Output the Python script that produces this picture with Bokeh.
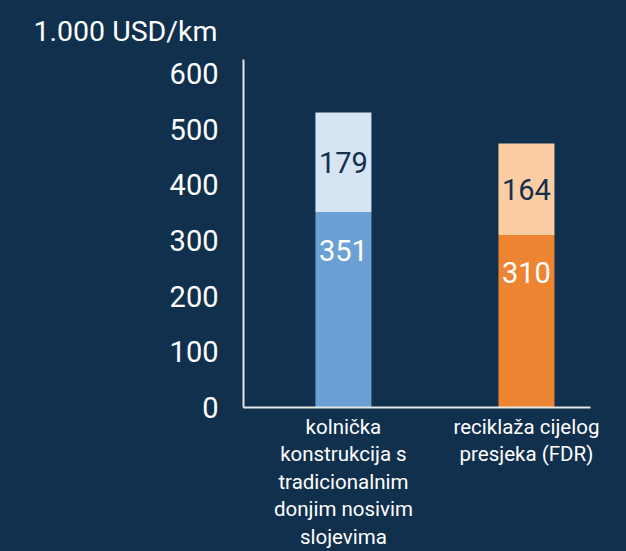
from bokeh.plotting import figure
from bokeh.models import Range1d, FixedTicker, Title, ColumnDataSource
from bokeh.core.properties import value
from bokeh.embed import file_html
from bokeh.resources import INLINE

categories = ["kolnička\nkonstrukcija s\ntradicionalnim\ndonjim nosivim\nslojevima",
              "reciklaža cijelog\npresjeka (FDR)"]
lower_values = [351, 310]
upper_values = [179, 164]
y_ticks = [0, 100, 200, 300, 400, 500, 600]
unit_label = "1.000 USD/km"

BG = "#11304d"
FONT_S = "Roboto, sans-serif"
FONT = value(FONT_S)

xs = list(range(len(categories)))
totals = [a + b for a, b in zip(lower_values, upper_values)]

p = figure(width=626, height=551, output_backend="svg", toolbar_location=None,
           x_range=Range1d(-0.546, 1.35), y_range=Range1d(0, 625),
           min_border_left=243, min_border_right=36, min_border_top=58, min_border_bottom=144)
p.styles = {"background-color": BG}
p.background_fill_color = BG
p.border_fill_color = BG
p.outline_line_color = None
p.grid.visible = False

src = ColumnDataSource(dict(x=xs, low=lower_values, up=upper_values, tot=totals,
                            mid=[a + b / 2 for a, b in zip(lower_values, upper_values)],
                            lowtxt=[str(v) for v in lower_values],
                            uptxt=[str(v) for v in upper_values],
                            lowc=["#6ba0d4", "#ec8431"], upc=["#d6e4f4", "#fccda3"]))

p.vbar(x="x", bottom=0, top="low", width=0.306, fill_color="lowc", line_color=None, source=src)
p.vbar(x="x", bottom="low", top="tot", width=0.306, fill_color="upc", line_color=None, source=src)

p.text(x="x", y="mid", text="uptxt", source=src, text_align="center", text_baseline="middle",
       text_font=FONT, text_font_size="29px", text_color=BG)
p.text(x="x", y="low", text="lowtxt", source=src, text_align="center", text_baseline="middle",
       y_offset=38, text_font=FONT, text_font_size="29px", text_color="white")

for ax in (p.xaxis[0], p.yaxis[0]):
    ax.axis_line_color = "#e6e6e6"
    ax.axis_line_width = 2
    ax.major_tick_line_color = None
    ax.minor_tick_line_color = None
    ax.major_tick_out = 0
    ax.major_tick_in = 0
    ax.minor_tick_out = 0
    ax.major_label_text_color = "white"
    ax.major_label_text_font = FONT_S

p.yaxis.ticker = FixedTicker(ticks=y_ticks)
p.yaxis.major_label_text_font_size = "29px"
p.yaxis.major_label_standoff = 25

p.xaxis.ticker = FixedTicker(ticks=xs)
p.xaxis.major_label_overrides = {i: c for i, c in enumerate(categories)}
p.xaxis.major_label_text_font_size = "20.5px"
p.xaxis.major_label_text_line_height = 1.15
p.xaxis.major_label_standoff = 7

p.add_layout(Title(text=unit_label, align="left", offset=-210, standoff=24,
                   text_color="white", text_font=FONT_S, text_font_size="28.5px",
                   text_font_style="normal"), "above")

open("out.html", "w").write(file_html(p, INLINE))
